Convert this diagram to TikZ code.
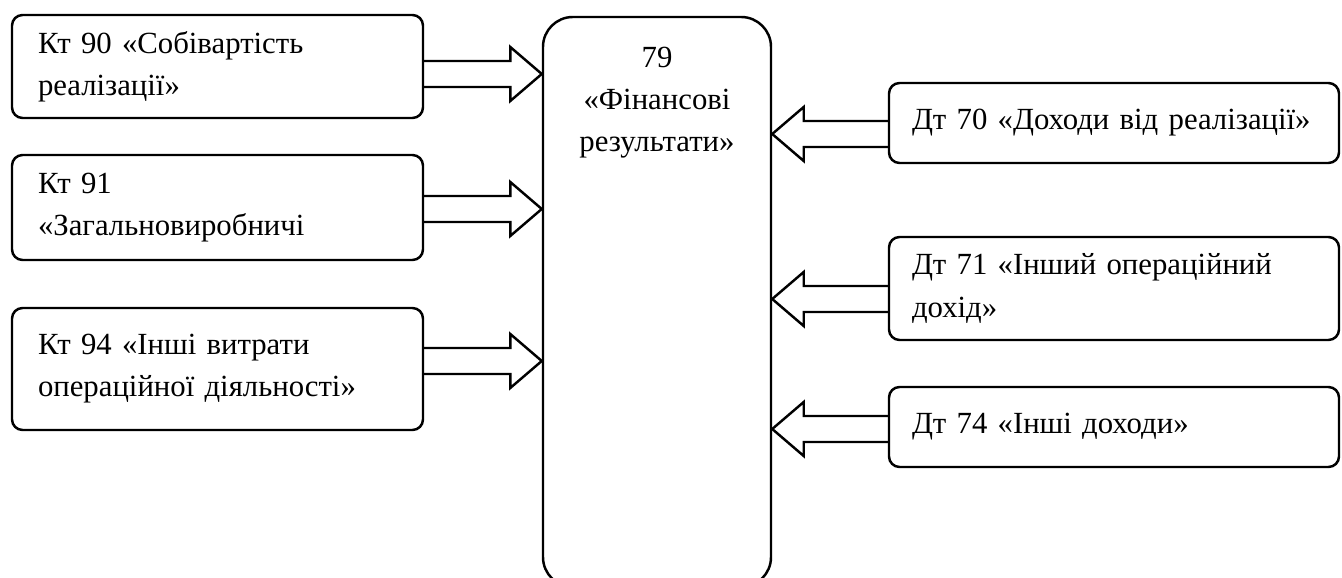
\documentclass[tikz,border=0pt]{standalone}
\usepackage{fontspec}
\setmainfont{Liberation Serif}
\usetikzlibrary{calc}

\newcommand{\shafthalf}{0.26cm}
\newcommand{\headhalf}{0.54cm}
\newcommand{\headlen}{0.63cm}

\begin{document}
\begin{tikzpicture}[
    accbox/.style={draw=black, fill=white, line width=1.4pt, rounded corners=6pt, align=left,
                   font=\fontsize{17.5}{24}\selectfont, inner ysep=0pt},
    leftbox/.style={accbox, inner xsep=0.52cm, text width=7.18cm, minimum height=#1},
    rightbox/.style={accbox, inner xsep=0.46cm, text width=8.08cm, minimum height=#1},
    finbox/.style={draw=black, fill=white, line width=1.4pt, rounded corners=17pt,
                   minimum width=4.56cm, minimum height=11.4cm},
    fintext/.style={align=center, font=\fontsize{17.5}{24}\selectfont},
    blockarrow/.style={draw=black, line width=1.4pt, line join=miter,
        to path={let \p1=(\tikztostart), \p2=(\tikztotarget), \n1={ifthenelse(\x2>\x1,1,-1)} in
            (\x1,\y1+\shafthalf) -- (\x2-\n1*\headlen,\y1+\shafthalf)
            -- (\x2-\n1*\headlen,\y1+\headhalf) -- (\x2,\y1)
            -- (\x2-\n1*\headlen,\y1-\headhalf) -- (\x2-\n1*\headlen,\y1-\shafthalf)
            -- (\x1,\y1-\shafthalf)}}
]

\clip (0,0) rectangle (26.84,-11.56);
\fill[white] (0,0) rectangle (26.84,-11.56);

% center account
\node[finbox] (fin) at (13.14,-6.04) {};
\node[fintext, anchor=north] (fintxt) at ($(fin.north)+(0,-0.5)$) {79\\«Фінансові\\результати»};

% expenses, left side
\node[leftbox=2.06cm] (kt90) at (4.35,-1.33) {Кт 90 «Собівартість\\реалізації»};
\node[leftbox=2.10cm] (kt91) at (4.35,-4.15) {Кт 91\\«Загальновиробничі};
\node[leftbox=2.44cm] (kt94) at (4.35,-7.38) {Кт 94 «Інші витрати\\операційної діяльності»};

% incomes, right side
\node[rightbox=1.60cm] (dt70) at (22.28,-2.46) {Дт 70 «Доходи від реалізації»};
\node[rightbox=2.06cm] (dt71) at (22.28,-5.77) {Дт 71 «Інший операційний\\дохід»};
\node[rightbox=1.60cm] (dt74) at (22.28,-8.54) {Дт 74 «Інші доходи»};

\draw[blockarrow] ([yshift=-0.15cm]kt90.east) to (fin.west);
\draw[blockarrow] ([yshift=-0.03cm]kt91.east) to (fin.west);
\draw[blockarrow] ([yshift=0.16cm]kt94.east) to (fin.west);

\draw[blockarrow] ([yshift=-0.22cm]dt70.west) to (fin.east);
\draw[blockarrow] ([yshift=-0.21cm]dt71.west) to (fin.east);
\draw[blockarrow] ([yshift=-0.04cm]dt74.west) to (fin.east);

\end{tikzpicture}
\end{document}
